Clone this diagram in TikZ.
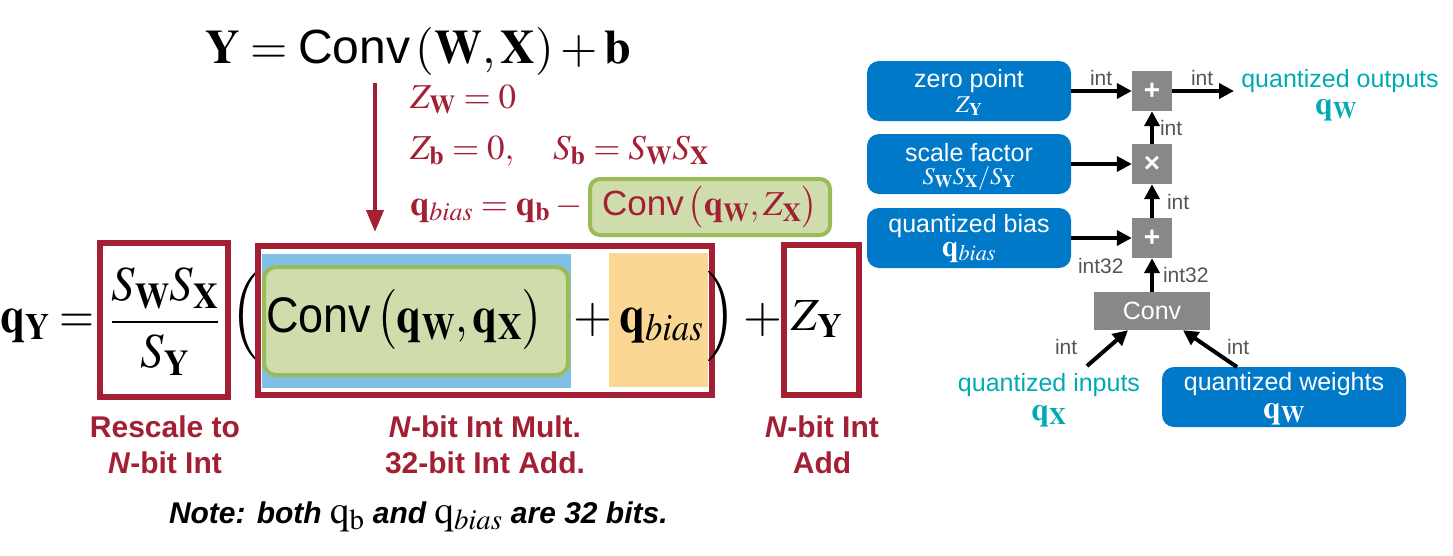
\documentclass[tikz,border=0pt]{standalone}
\usepackage{graphicx}
\usepackage{mathptmx}
\usepackage[no-math]{fontspec}
\setmainfont{Liberation Sans}
\usetikzlibrary{arrows.meta}
\definecolor{mitred}{HTML}{A31F34}
\definecolor{gfill}{HTML}{CEDDAB}
\definecolor{gline}{HTML}{9BBB59}
\definecolor{lblue}{HTML}{80BFE6}
\definecolor{lorange}{HTML}{FAD792}
\definecolor{bbox}{HTML}{0079C9}
\definecolor{teal}{HTML}{00AAB4}
\definecolor{gbox}{HTML}{888888}
\definecolor{lgray}{HTML}{555555}
\newcommand\fsz[1]{\fontsize{#1}{#1}\selectfont}
\newcommand\sqz[1]{\scalebox{0.9}[1]{#1}}
\begin{document}
\begin{tikzpicture}[x=1pt,y=-1pt,
  txt/.style={inner sep=0pt, outer sep=0pt},
  redbox/.style={draw=mitred, line width=6pt},
  redtxt/.style={txt, text=mitred},
  labtxt/.style={txt, text=mitred, font=\fsz{30}\bfseries, anchor=base},
  bluebox/.style={draw=none, fill=bbox, rounded corners=12pt, text=white, minimum width=204pt, minimum height=60pt, inner sep=0pt},
  graybox/.style={draw=none, fill=gbox, text=white, minimum width=40pt, minimum height=40pt, inner sep=0pt, font=\fsz{28}\bfseries},
  arr/.style={line width=4pt, -{Triangle[length=15pt,width=15pt]}},
  intlbl/.style={txt, text=lgray, font=\fsz{21}, anchor=base west},
  tealtxt/.style={txt, text=teal, anchor=base}
]
\useasboundingbox (0,0) rectangle (1453,555);

% ---------- top equation ----------
\node[txt, anchor=base west, font=\fsz{48}] (topeq) at (205,63)
  {$\mathbf{Y} = \mbox{Conv}\,(\mathbf{W}, \mathbf{X}) + \mathbf{b}$};

\coordinate (ra) at (375,83);
\coordinate (rb) at (375,232);
\draw[draw=mitred, line width=4pt, -{Triangle[length=22pt,width=17pt]}] (ra) -- (rb);

\node[redtxt, anchor=base west, font=\fsz{35}] (l1) at (410,108) {$Z_{\mathbf{W}} = 0$};
\node[redtxt, anchor=base west, font=\fsz{35}] (l2) at (410,159)
  {$Z_{\mathbf{b}} = 0,\quad S_{\mathbf{b}} = S_{\mathbf{W}}S_{\mathbf{X}}$};
\node[redtxt, anchor=base west, font=\fsz{35}] (l3) at (410,215)
  {$\mathbf{q}_{bias} = \mathbf{q}_{\mathbf{b}} - {}$};
\node[draw=gline, fill=gfill, line width=4pt, rounded corners=10pt,
      minimum width=240pt, minimum height=56pt, inner sep=0pt, outer sep=0pt,
      text=mitred, font=\fsz{35}] (gconv) at (710,207)
  {\raisebox{-4pt}{$\mbox{Conv}\,\bigl(\mathbf{q}_{\mathbf{W}}, Z_{\mathbf{X}}\bigr)$}};

% ---------- main equation ----------
\node[txt, anchor=base west, font=\fsz{50}] (qy) at (0,332) {\sqz{$\mathbf{q}_{\mathbf{Y}} =$}};
\draw[redbox] (100,243) rectangle (228,397);
\node[txt, anchor=base, font=\fsz{49}] (frac) at (165,334)
  {\scalebox{0.95}[1]{$\displaystyle\frac{S_{\mathbf{W}}S_{\mathbf{X}}}{S_{\mathbf{Y}}}$}};
\node[txt, anchor=center, font=\fsz{50}] (lpar) at (246,317) {$\left(\vrule height 30pt depth 30pt width 0pt\right.$};

\fill[lblue] (262,254) rectangle (571,388);
\draw[draw=gline, fill=gfill, line width=4pt, rounded corners=12pt] (264,267) rectangle (568,375);
\node[txt, anchor=base west, font=\fsz{50}] (convq) at (266,332)
  {\sqz{$\mbox{Conv}\,\bigl(\mathbf{q}_{\mathbf{W}}, \mathbf{q}_{\mathbf{X}}\bigr)$}};
\node[txt, anchor=base, font=\fsz{50}] (plus1) at (593,332) {$+$};
\fill[lorange] (609,253) rectangle (708,387);
\node[txt, anchor=base west, font=\fsz{52}] (qb) at (619,332) {\sqz{$\mathbf{q}_{bias}$}};
\draw[redbox] (258,246) rectangle (712,395);
\node[txt, anchor=center, font=\fsz{50}] (rpar) at (721,317) {$\left.\vrule height 33pt depth 33pt width 0pt\right)$};
\node[txt, anchor=base, font=\fsz{50}] (plus2) at (763,332) {$+$};
\draw[redbox] (784,245) rectangle (859,395);
\node[txt, anchor=base, font=\fsz{46}] (zy) at (817,330) {$Z_{\mathbf{Y}}$};

% ---------- labels ----------
\node[labtxt] (la1) at (165,437) {Rescale to};
\node[labtxt] (la2) at (165,473) {\textit{N}-bit Int};
\node[labtxt] (lb1) at (485,437) {\textit{N}-bit Int Mult.};
\node[labtxt] (lb2) at (485,473) {32-bit Int Add.};
\node[labtxt] (lc1) at (822,437) {\textit{N}-bit Int};
\node[labtxt] (lc2) at (822,473) {Add};
\node[txt, anchor=base west, font=\fsz{30}\bfseries\itshape] (note) at (169,523)
  {Note: both {\fsz{39}$\mathrm{q}_{\mathrm{b}}$} and {\fsz{39}$\mathrm{q}_{bias}$} are 32 bits.};

% ---------- right diagram ----------
\node[bluebox] (zp) at (969,91) {};
\node[txt, text=white, anchor=base, font=\fsz{25}] (zpt) at (969,87) {zero point};
\node[txt, text=white, anchor=base, font=\fsz{24}] (zpm) at (969,112) {$Z_{\mathbf{Y}}$};

\node[bluebox] (sf) at (969,164) {};
\node[txt, text=white, anchor=base, font=\fsz{25}] (sft) at (969,161) {scale factor};
\node[txt, text=white, anchor=base, font=\fsz{24}] (sfm) at (969,184) {$S_{\mathbf{W}}S_{\mathbf{X}}/S_{\mathbf{Y}}$};

\node[bluebox] (qbb) at (969,238) {};
\node[txt, text=white, anchor=base, font=\fsz{25}] (qbt) at (969,232) {quantized bias};
\node[txt, text=white, anchor=base, font=\fsz{30}] (qbm) at (969,256) {$\mathbf{q}_{bias}$};

\node[graybox] (pa) at (1152,91) {+};
\node[graybox] (mu) at (1152,164) {\char"00D7};
\node[graybox] (pb) at (1152,238) {+};
\node[draw=none, fill=gbox, text=white, minimum width=116pt, minimum height=38pt, inner sep=0pt, font=\fsz{25}] (conv) at (1152,311) {Conv};

\node[bluebox, minimum width=244pt] (qw) at (1284,397) {};
\node[txt, text=white, anchor=base, font=\fsz{25}] (qwt) at (1284,390) {quantized weights};
\node[txt, text=white, anchor=base, font=\fsz{32}] (qwm) at (1284,418) {$\mathbf{q}_{\mathbf{W}}$};

\node[tealtxt, font=\fsz{25}] (qin) at (1049,391) {quantized inputs};
\node[tealtxt, font=\fsz{32}] (qinm) at (1049,420) {$\mathbf{q}_{\mathbf{X}}$};

\node[tealtxt, font=\fsz{25}] (qout) at (1340,87) {quantized outputs};
\node[tealtxt, font=\fsz{32}] (qoutm) at (1336,114) {$\mathbf{q}_{\mathbf{W}}$};

\coordinate (outend) at (1234,91);
\coordinate (inS) at (1087,366);
\coordinate (wS) at (1237,367);

\draw[arr] (zp.east) -- (pa.west);
\draw[arr] (pa.east) -- (outend);
\draw[arr] (sf.east) -- (mu.west);
\draw[arr] (qbb.east) -- (pb.west);
\draw[arr] (mu.north) -- (pa.south);
\draw[arr] (pb.north) -- (mu.south);
\draw[arr] (conv.north) -- (pb.south);
\draw[arr] (inS) -- ([xshift=-24pt]conv.south);
\draw[arr] (wS) -- ([xshift=31pt]conv.south);

\node[intlbl] (i1) at (1090,85) {int};
\node[intlbl] (i2) at (1191,85) {int};
\node[intlbl] (i3) at (1160,135) {int};
\node[intlbl] (i4) at (1167,209) {int};
\node[intlbl] (i5) at (1078,273) {int32};
\node[intlbl] (i6) at (1163,282) {int32};
\node[intlbl] (i7) at (1055,354) {int};
\node[intlbl] (i8) at (1227,354) {int};
\end{tikzpicture}
\end{document}
